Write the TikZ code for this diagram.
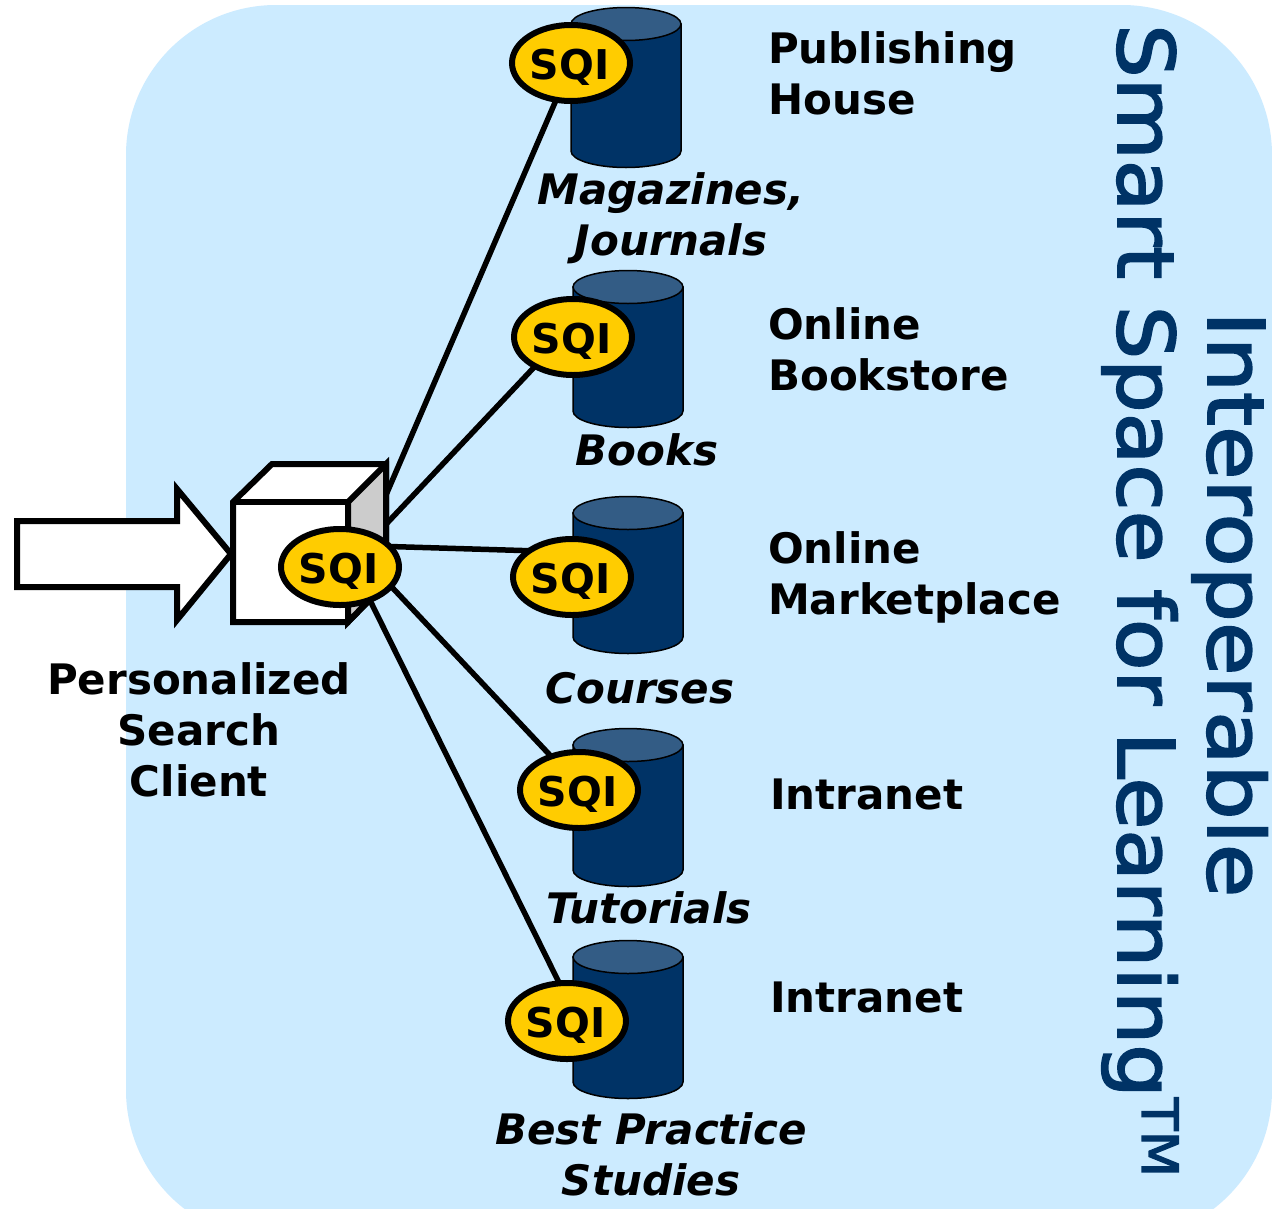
\documentclass[tikz,border=0pt]{standalone}
\usepackage{fontspec}
\setmainfont{DejaVu Sans}
\newfontfamily\sidefonta[FakeStretch=1.115,RawFeature={embolden=2.5}]{DejaVu Sans}
\newfontfamily\sidefontb[FakeStretch=1.08,RawFeature={embolden=2.5}]{DejaVu Sans}
\usetikzlibrary{shapes.geometric}
\definecolor{panel}{HTML}{CCEBFF}
\definecolor{navy}{HTML}{003366}
\definecolor{navytop}{HTML}{335C85}
\definecolor{sqiy}{HTML}{FFCC00}
\newcommand{\sqitext}{\raisebox{0pt}[33pt][0pt]{SQI\hspace{3pt}}}
\tikzset{x=1pt,y=-1pt,
 sqi/.style={ellipse,draw=black,line width=6pt,fill=sqiy,minimum width=118pt,minimum height=76pt,inner sep=0pt,font=\fontsize{41}{41}\selectfont\bfseries},
 link/.style={draw=black,line width=5.5pt},
 boxline/.style={draw=black,line width=6pt,line join=miter},
 lab/.style={align=left,anchor=north west,font=\fontsize{42}{51}\selectfont\bfseries,inner sep=0pt},
 ital/.style={align=center,anchor=north,font=\fontsize{42}{51}\selectfont\bfseries\itshape,inner sep=0pt},
 cname/.style={align=center,anchor=north,inner sep=0pt,font=\fontsize{42}{51}\selectfont\bfseries},
 side/.style={text=navy,rotate=-90,inner sep=0pt,anchor=base west}}
\newcommand{\cyl}[3]{% x-center, top y, bottom y
 \fill[navy,draw=black,line width=1.5pt] (#1-55,#2) -- (#1-55,#3) arc[start angle=180,end angle=0,x radius=55,y radius=16.5] -- (#1+55,#2) -- cycle;
 \fill[navytop,draw=black,line width=1.5pt] (#1,#2) ellipse[x radius=55,y radius=16.5];}
\begin{document}
\begin{tikzpicture}
\useasboundingbox (0,0) rectangle (1272,1208);
\fill[white] (0,0) rectangle (1272,1208);
\fill[panel] (126,5) [rounded corners=150pt] -- (1272,5) -- (1272,1240) -- (126,1240) -- cycle;
\cyl{626}{24}{151}
\cyl{628}{287}{411}
\cyl{628}{513}{637}
\cyl{628}{745}{870}
\cyl{628}{957}{1082}
% anchors of the connectors
\coordinate (h1) at (355,567);
\coordinate (h2) at (340,573);
\coordinate (h3) at (340,545);
\coordinate (h4) at (340,532);
\coordinate (h5) at (355,570);
\coordinate (e3) at (572,552);
\coordinate (e5) at (578,1021);
\coordinate (e1) at (572,63);
\coordinate (e2) at (573,326);
\coordinate (e4) at (579,786);
\draw[link] (h1) -- (e1);
\draw[link] (h2) -- (e2);
\draw[link] (h3) -- (e3);
\draw[link] (h4) -- (e4);
\draw[link] (h5) -- (e5);
% client box
\draw[boxline,fill=white] (233,502) -- (272,464) -- (386,464) -- (386,583) -- (348,622) -- (233,622) -- cycle;
\draw[boxline,fill=black!20] (348,502) -- (386,464) -- (386,583) -- (348,622) -- cycle;
\draw[boxline] (233,502) -- (348,502);
% arrow
\draw[boxline,fill=white] (17,521) -- (177,521) -- (177,489) -- (231,554) -- (177,620) -- (177,587) -- (17,587) -- cycle;
% SQI nodes
\node[sqi] (c) at (340,567) {\sqitext};
\node[sqi] (s1) at (571,63) {\sqitext};
\node[sqi] (s2) at (573,337) {\sqitext};
\node[sqi] (s3) at (572,577) {\sqitext};
\node[sqi] (s4) at (579,790) {\sqitext};
\node[sqi] (s5) at (567,1021) {\sqitext};
% labels
\node[lab] at (768,31) {Publishing\\House};
\node[lab] at (768,307) {Online\\Bookstore};
\node[lab] at (768,531) {Online\\Marketplace};
\node[lab] at (770,779) {Intranet};
\node[lab] at (770,982) {Intranet};
\node[ital] at (671,172) {Magazines,\\Journals};
\node[ital] at (647,433) {Books};
\node[ital] at (640,672) {Courses};
\node[ital] at (649,891) {Tutorials};
\node[ital] at (651,1112) {Best Practice\\Studies};
\node[cname] at (199,662) {Personalized\\Search\\Client};
\node[side,font=\sidefonta\fontsize{78}{78}\selectfont] at (1208,311) {Interoperable};
\node[side,font=\sidefontb\fontsize{78}{78}\selectfont] at (1118,24) {Smart Space for Learning\raisebox{24pt}{\fontsize{50}{50}\selectfont TM}};
\end{tikzpicture}
\end{document}
